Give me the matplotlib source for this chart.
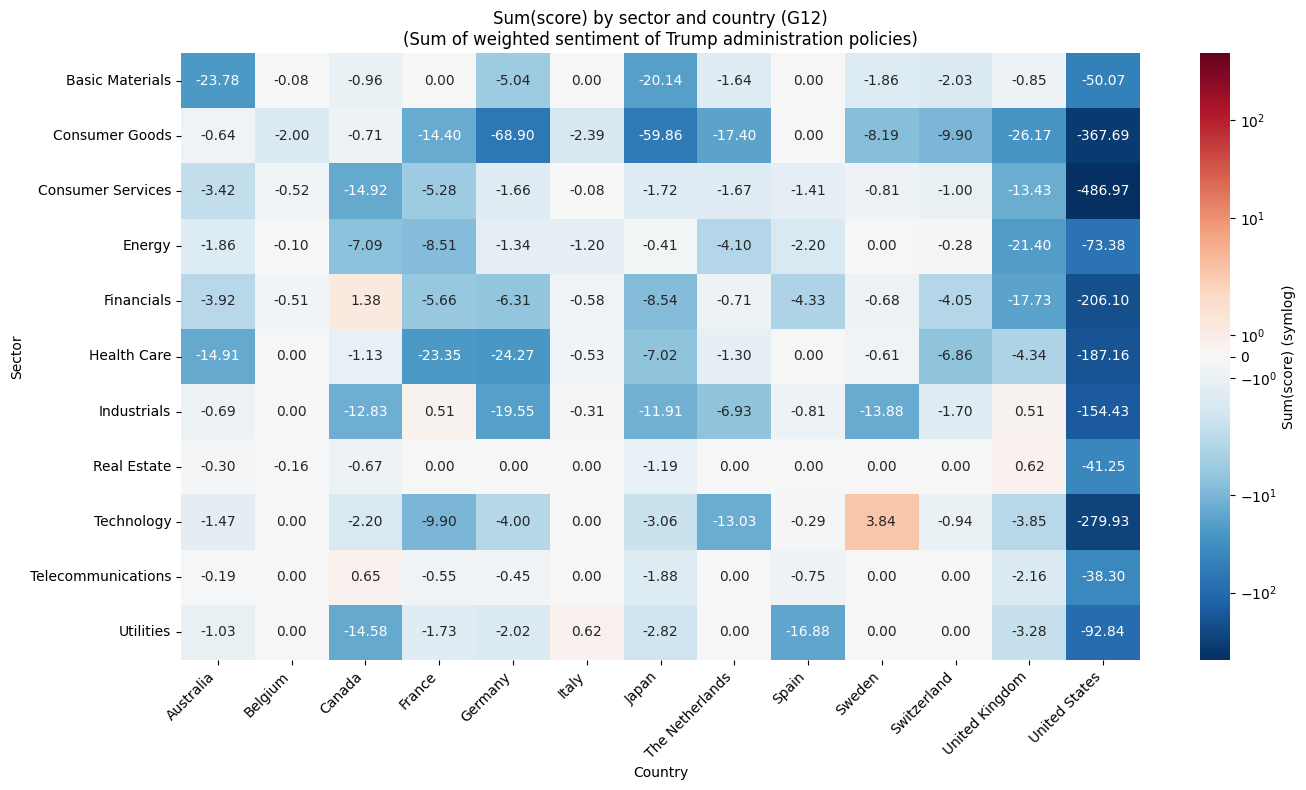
import numpy as np
import pandas as pd
import matplotlib
matplotlib.use("Agg")
import matplotlib.pyplot as plt
from matplotlib.colors import SymLogNorm
import seaborn as sns

# Data
SECTORS = ["Basic Materials", "Consumer Goods", "Consumer Services", "Energy",
           "Financials", "Health Care", "Industrials", "Real Estate",
           "Technology", "Telecommunications", "Utilities"]
COUNTRIES = ["Australia", "Belgium", "Canada", "France", "Germany", "Italy",
             "Japan", "The Netherlands", "Spain", "Sweden", "Switzerland",
             "United Kingdom", "United States"]

basic_materials = [-23.78, -0.08, -0.96, 0.00, -5.04, 0.00, -20.14, -1.64, 0.00, -1.86, -2.03, -0.85, -50.07]
consumer_goods = [-0.64, -2.00, -0.71, -14.40, -68.90, -2.39, -59.86, -17.40, 0.00, -8.19, -9.90, -26.17, -367.69]
consumer_services = [-3.42, -0.52, -14.92, -5.28, -1.66, -0.08, -1.72, -1.67, -1.41, -0.81, -1.00, -13.43, -486.97]
energy = [-1.86, -0.10, -7.09, -8.51, -1.34, -1.20, -0.41, -4.10, -2.20, 0.00, -0.28, -21.40, -73.38]
financials = [-3.92, -0.51, 1.38, -5.66, -6.31, -0.58, -8.54, -0.71, -4.33, -0.68, -4.05, -17.73, -206.10]
health_care = [-14.91, 0.00, -1.13, -23.35, -24.27, -0.53, -7.02, -1.30, 0.00, -0.61, -6.86, -4.34, -187.16]
industrials = [-0.69, 0.00, -12.83, 0.51, -19.55, -0.31, -11.91, -6.93, -0.81, -13.88, -1.70, 0.51, -154.43]
real_estate = [-0.30, -0.16, -0.67, 0.00, 0.00, 0.00, -1.19, 0.00, 0.00, 0.00, 0.00, 0.62, -41.25]
technology = [-1.47, 0.00, -2.20, -9.90, -4.00, 0.00, -3.06, -13.03, -0.29, 3.84, -0.94, -3.85, -279.93]
telecommunications = [-0.19, 0.00, 0.65, -0.55, -0.45, 0.00, -1.88, 0.00, -0.75, 0.00, 0.00, -2.16, -38.30]
utilities = [-1.03, 0.00, -14.58, -1.73, -2.02, 0.62, -2.82, 0.00, -16.88, 0.00, 0.00, -3.28, -92.84]

LINTHRESH = 5


def plot_heatmap():
    rows = [basic_materials, consumer_goods, consumer_services, energy,
            financials, health_care, industrials, real_estate, technology,
            telecommunications, utilities]
    df = pd.DataFrame(rows, index=SECTORS, columns=COUNTRIES)

    vmax = np.abs(df.values).max()
    norm = SymLogNorm(linthresh=LINTHRESH, linscale=1, vmin=-vmax, vmax=vmax, base=10)

    W, H = 1306, 790
    fig = plt.figure(figsize=(W / 100, H / 100), dpi=100)
    ax = fig.add_axes([181 / W, 130 / H, 959 / W, 607 / H])
    cax = fig.add_axes([1200 / W, 130 / H, 30 / W, 607 / H])

    sns.heatmap(df, ax=ax, cbar_ax=cax, cmap="RdBu_r", norm=norm,
                annot=True, fmt=".2f", annot_kws={"fontsize": 10},
                cbar_kws={"label": "Sum(score) (symlog)"})

    ax.set_title("Sum(score) by sector and country (G12)\n"
                 "(Sum of weighted sentiment of Trump administration policies)",
                 fontsize=12)
    ax.set_xlabel("Country")
    ax.set_ylabel("Sector")
    ax.set_xticklabels(ax.get_xticklabels(), rotation=45, ha="right")
    ax.set_yticklabels(ax.get_yticklabels(), rotation=0)

    plt.savefig("out.png", dpi=100)


if __name__ == "__main__":
    plot_heatmap()
